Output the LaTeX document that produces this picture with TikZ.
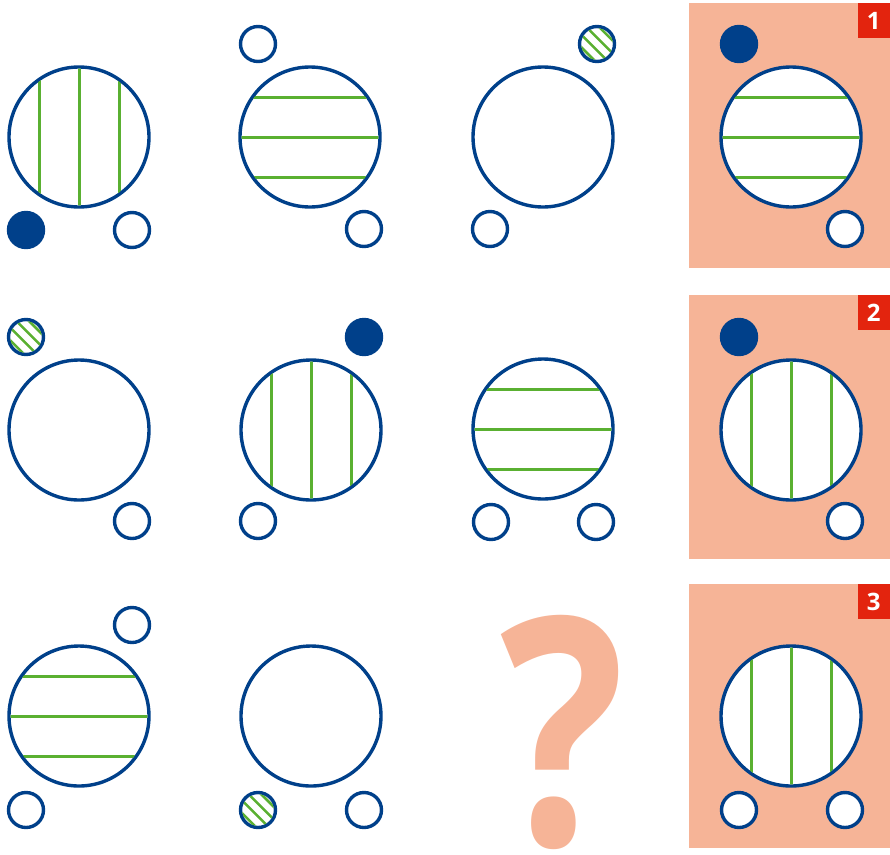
\documentclass[tikz,border=0pt]{standalone}
\usepackage{fontspec}
\setmainfont{Open Sans}
\usepackage{xcolor}
\usepackage{tikz}
\usetikzlibrary{calc}
\definecolor{ring}{HTML}{00408A}
\definecolor{stripe}{HTML}{5AB031}
\definecolor{panel}{HTML}{F6B497}
\definecolor{badge}{HTML}{E3240E}

\begin{document}
\begin{tikzpicture}[x=1pt, y=-1pt,
  bigring/.style={circle, draw=ring, line width=3.4pt, minimum size=140pt, inner sep=0pt, fill=white},
  smallring/.style={circle, draw=ring, line width=3.4pt, minimum size=35pt, inner sep=0pt, fill=white},
  dotring/.style={smallring, fill=ring},
  stripes/.style={draw=stripe, line width=3pt},
  tag/.style={fill=badge, text=white, font=\bfseries\fontsize{24}{24}\selectfont, minimum width=32pt, minimum height=35pt, inner sep=0pt, anchor=north east}]
\useasboundingbox (0,0) rectangle (890,854);
% answer panels
\fill[panel] (689,3) rectangle (890,268);
\fill[panel] (689,295) rectangle (890,559);
\fill[panel] (689,584) rectangle (890,848);
\node[tag] (tag1) at (890,3) {1};
\node[tag] (tag2) at (890,295) {2};
\node[tag] (tag3) at (890,584) {3};
% big circles
\node[bigring] (ba) at (79,137) {};
\node[bigring] (bb) at (310,137) {};
\node[bigring] (bc) at (543,137) {};
\node[bigring] (bd) at (79,430) {};
\node[bigring] (be) at (311,430) {};
\node[bigring] (bf) at (543,429) {};
\node[bigring] (bg) at (79,716) {};
\node[bigring] (bh) at (311,716) {};
\node[bigring] (ans1) at (791,137) {};
\node[bigring] (ans2) at (791,430) {};
\node[bigring] (ans3) at (791,716) {};
% vertical stripes
\foreach \c in {ba,be,ans2,ans3}{
  \begin{scope}
    \clip (\c) circle (68.4);
    \foreach \d in {-40,0,40}
      \draw[stripes] ($(\c)+(\d,-80)$) -- ($(\c)+(\d,80)$);
  \end{scope}
}
% horizontal stripes
\foreach \c in {bb,bf,bg,ans1}{
  \begin{scope}
    \clip (\c) circle (68.4);
    \foreach \d in {-40,0,40}
      \draw[stripes] ($(\c)+(-80,\d)$) -- ($(\c)+(80,\d)$);
  \end{scope}
}
% small circles, row 1
\node[dotring] (sa1) at (26,230) {};
\node[smallring] (sa2) at (132,230) {};
\node[smallring] (sb1) at (258,44) {};
\node[smallring] (sb2) at (364,229) {};
\node[smallring] (sc1) at (597,44) {};
\node[smallring] (sc2) at (490,229) {};
\node[dotring] (sd1) at (739,44) {};
\node[smallring] (sd2) at (845,229) {};
% row 2
\node[smallring] (se1) at (26,337) {};
\node[smallring] (se2) at (132,521) {};
\node[dotring] (sf1) at (364,337) {};
\node[smallring] (sf2) at (258,521) {};
\node[smallring] (sg1) at (491,522) {};
\node[smallring] (sg2) at (596,522) {};
\node[dotring] (sh1) at (739,337) {};
\node[smallring] (sh2) at (845,521) {};
% row 3
\node[smallring] (si1) at (132,625) {};
\node[smallring] (si2) at (26,810) {};
\node[smallring] (sj1) at (258,810) {};
\node[smallring] (sj2) at (364,810) {};
\node[smallring] (sk1) at (739,810) {};
\node[smallring] (sk2) at (845,810) {};
% hatched small circles
\foreach \c in {sc1,se1,sj1}{
  \begin{scope}
    \clip (\c) circle (15.8);
    \foreach \d in {-13.5,-4.5,4.5,13.5}
      \draw[stripes, line width=2.6pt] ($(\c)+({0.7071*\d-21},{-0.7071*\d-21})$) -- ($(\c)+({0.7071*\d+21},{-0.7071*\d+21})$);
  \end{scope}
}
% missing piece
\node[font=\bfseries\fontsize{318}{318}\selectfont, text=panel, anchor=base, inner sep=0pt, xscale=0.82] (quest) at (563,845) {?};
\end{tikzpicture}
\end{document}
